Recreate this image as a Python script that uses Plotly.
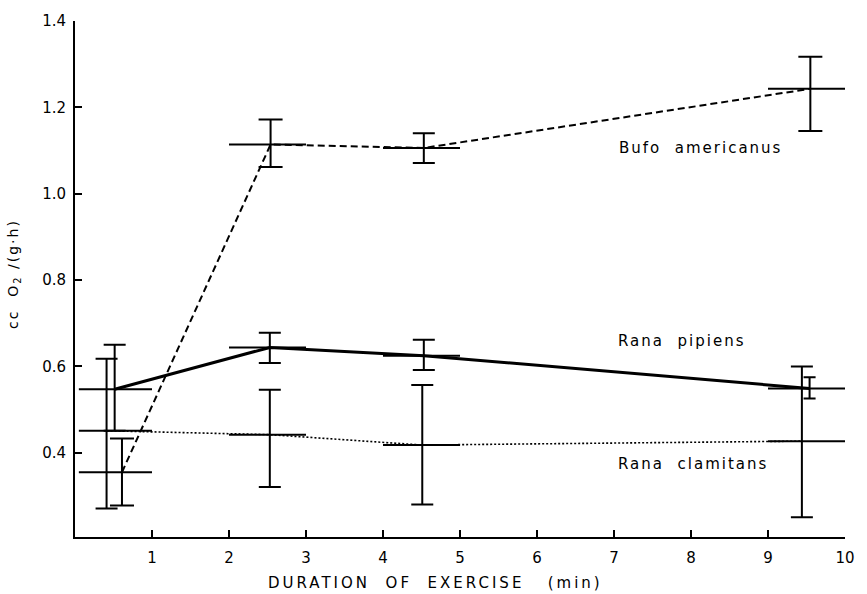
import plotly.graph_objects as go

# Duration intervals (min) over which each measurement was made
interval_lo = [0.05, 2.0, 4.0, 9.0]
interval_hi = [1.0, 3.0, 5.0, 10.0]

# Bufo americanus
bufo_x = [0.61, 2.54, 4.53, 9.55]
bufo_y = [0.355, 1.114, 1.106, 1.243]
bufo_hi = [0.433, 1.172, 1.140, 1.317]
bufo_lo = [0.278, 1.062, 1.071, 1.145]

# Rana pipiens
pip_x = [0.515, 2.53, 4.53, 9.54]
pip_y = [0.547, 0.644, 0.625, 0.549]
pip_hi = [0.650, 0.678, 0.662, 0.575]
pip_lo = [0.451, 0.608, 0.592, 0.526]

# Rana clamitans
clam_x = [0.41, 2.53, 4.51, 9.44]
clam_y = [0.451, 0.442, 0.418, 0.427]
clam_hi = [0.618, 0.546, 0.557, 0.600]
clam_lo = [0.271, 0.321, 0.280, 0.251]

x_ticks = [1, 2, 3, 4, 5, 6, 7, 8, 9, 10]
y_ticks = [0.4, 0.6, 0.8, 1.0, 1.2, 1.4]
y_ticktext = ["0.4", "0.6", "0.8", "1.0", "1.2", "1.4"]

FONT = "DejaVu Sans"
fig = go.Figure()


def spaced(txt, px):
    return '<span style="letter-spacing:%spx">%s</span>' % (px, txt)


def add_series(xs, ys, his, los, dash, lw, cap_widths):
    # connecting line
    fig.add_trace(go.Scatter(x=xs, y=ys, mode="lines",
                             line=dict(color="black", width=lw, dash=dash),
                             hoverinfo="skip"))
    # horizontal bars (duration interval) + vertical error bars
    for i in range(len(xs)):
        fig.add_trace(go.Scatter(
            x=[xs[i]], y=[ys[i]], mode="markers",
            marker=dict(size=1, color="black", opacity=0),
            error_x=dict(type="data", symmetric=False,
                         array=[interval_hi[i] - xs[i]],
                         arrayminus=[xs[i] - interval_lo[i]],
                         color="black", thickness=2, width=0),
            error_y=dict(type="data", symmetric=False,
                         array=[his[i] - ys[i]],
                         arrayminus=[ys[i] - los[i]],
                         color="black", thickness=2, width=cap_widths[i]),
            hoverinfo="skip"))


add_series(clam_x, clam_y, clam_hi, clam_lo, "2px,2px", 1.6, [11, 11, 11, 11])
add_series(pip_x, pip_y, pip_hi, pip_lo, "solid", 3, [11, 11, 11, 6])
add_series(bufo_x, bufo_y, bufo_hi, bufo_lo, "7px,4px", 2, [12, 12, 11, 12])

labels = [("Bufo  americanus", 7.04, 1.106),
          ("Rana  pipiens", 7.03, 0.66),
          ("Rana  clamitans", 7.03, 0.375)]
for txt, lx, ly in labels:
    fig.add_annotation(x=lx, y=ly, text=spaced(txt, 2), showarrow=False,
                       xanchor="left", yanchor="middle",
                       font=dict(family=FONT, size=15, color="black"))

fig.add_annotation(xref="paper", yref="paper", x=0.468, y=-0.09,
                   text=spaced("DURATION  OF  EXERCISE   (min)", 3),
                   showarrow=False, xanchor="center", yanchor="middle",
                   font=dict(family=FONT, size=15, color="black"))
fig.add_annotation(xref="paper", yref="paper", x=-0.079, y=0.51,
                   text=spaced("cc  O<sub>2</sub> /(g·h)", 2), showarrow=False,
                   textangle=-90, xanchor="center", yanchor="middle",
                   font=dict(family=FONT, size=14, color="black"))

fig.update_layout(
    width=867, height=594,
    margin=dict(l=75, r=15, t=12, b=57),
    plot_bgcolor="white", paper_bgcolor="white",
    showlegend=False,
    font=dict(family=FONT, color="black"),
    xaxis=dict(range=[0, 10], tickvals=x_ticks, ticks="inside", ticklen=7,
               tickwidth=2, tickcolor="black", showline=True, linewidth=2,
               linecolor="black", showgrid=False, zeroline=False,
               tickfont=dict(family=FONT, size=15), ticklabelstandoff=6),
    yaxis=dict(range=[0.205, 1.4], tickvals=y_ticks, ticktext=y_ticktext,
               ticks="inside", ticklen=7, tickwidth=2, tickcolor="black",
               showline=True, linewidth=2, linecolor="black",
               showgrid=False, zeroline=False,
               tickfont=dict(family=FONT, size=15), ticklabelstandoff=4),
)

fig.write_html("out.html")
